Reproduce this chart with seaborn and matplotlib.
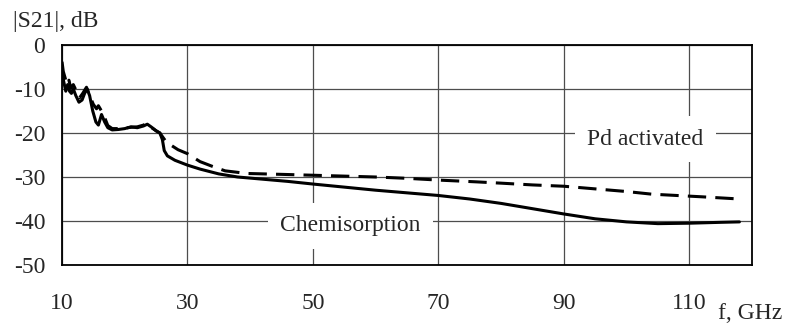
import pandas as pd
import matplotlib.pyplot as plt
import seaborn as sns

# values, f in GHz, |S21| in dB
freq_chem = [10.0, 10.3, 10.6, 10.9, 11.2, 11.5, 11.8, 12.2, 12.7, 13.2, 13.6, 14.0,
             14.4, 14.9, 15.4, 15.8, 16.3, 16.8, 17.3, 18.0, 19.0, 20.0, 21.0, 22.0,
             23.0, 23.6, 24.2, 25.0, 25.6, 26.0, 26.3, 26.8, 28.0, 30.0, 32.0, 35.0,
             38.0, 42.0, 46.0, 50.0, 55.0, 60.0, 65.0, 70.0, 75.0, 80.0, 85.0, 90.0,
             95.0, 100.0, 105.0, 110.0, 115.0, 118.0]
s21_chem = [-6.5, -8.5, -10.5, -9.0, -10.5, -11.0, -10.0, -11.5, -13.0, -12.5, -11.0, -10.0,
            -11.5, -15.0, -17.5, -18.2, -15.8, -17.5, -18.8, -19.3, -19.2, -19.0, -18.6, -18.8,
            -18.4, -18.0, -18.6, -19.5, -20.0, -21.5, -24.0, -25.2, -26.2, -27.3, -28.2, -29.3,
            -30.0, -30.5, -31.0, -31.6, -32.3, -33.0, -33.6, -34.2, -35.0, -36.0, -37.2, -38.4,
            -39.5, -40.2, -40.6, -40.5, -40.3, -40.2]

freq_pd = [10.0, 10.2, 10.5, 10.8, 11.1, 11.4, 11.8, 12.3, 12.8, 13.3, 13.9, 14.4,
           15.0, 15.5, 15.8, 16.3, 16.8, 17.3, 18.0, 19.0, 20.0, 21.0, 22.0, 23.0,
           23.5, 24.3, 25.0, 25.6, 26.1, 26.6, 27.3, 28.5, 30.0, 32.0, 34.0, 36.0,
           39.5, 45.0, 50.0, 55.0, 60.0, 65.0, 70.0, 76.0, 80.0, 85.0, 90.0, 95.0,
           100.0, 104.0, 108.0, 112.0, 118.0]
s21_pd = [-3.8, -6.0, -7.5, -9.0, -8.0, -9.8, -9.0, -10.5, -12.0, -11.0, -9.6, -11.5,
          -13.5, -14.5, -13.8, -15.0, -16.5, -18.3, -19.0, -19.0, -18.9, -18.7, -18.6, -18.2,
          -17.8, -18.8, -19.5, -20.0, -21.0, -22.0, -22.7, -23.8, -24.7, -26.5, -27.6, -28.6,
          -29.2, -29.4, -29.6, -29.8, -30.0, -30.3, -30.7, -31.1, -31.4, -31.8, -32.1, -32.7,
          -33.3, -33.9, -34.2, -34.5, -35.0]

x_ticks = [10, 30, 50, 70, 90, 110]
y_ticks = [0, -10, -20, -30, -40, -50]

df = pd.concat([
    pd.DataFrame({"f": freq_chem, "s21": s21_chem, "sample": "Chemisorption"}),
    pd.DataFrame({"f": freq_pd, "s21": s21_pd, "sample": "Pd activated"}),
])

sns.set_style("white")
plt.rcParams["font.family"] = ["Liberation Serif", "DejaVu Serif"]
FS = 17

fig, ax = plt.subplots(figsize=(7.86, 3.27), dpi=100)
fig.subplots_adjust(left=0.0789, right=0.9567, bottom=0.1896, top=0.8624)

sns.lineplot(
    data=df, x="f", y="s21", hue="sample", style="sample",
    palette={"Chemisorption": "black", "Pd activated": "black"},
    dashes={"Chemisorption": "", "Pd activated": (6, 3)},
    estimator=None, sort=False, linewidth=2.2, legend=False, ax=ax,
)
for line in ax.get_lines():
    line.set_solid_joinstyle("round")
    line.set_dash_joinstyle("round")

ax.set_xlim(10, 120)
ax.set_ylim(-50, 0)
ax.set_xticks(x_ticks)
ax.set_yticks(y_ticks)
ax.set_xticklabels([str(t) for t in x_ticks], fontsize=FS)
ax.set_yticklabels([str(t) for t in y_ticks], fontsize=FS)
ax.tick_params(axis="x", direction="out", length=6, width=1, color="black", pad=14)
ax.tick_params(axis="y", direction="out", length=5, width=1, color="black", pad=7)
ax.grid(True, color="0.3", linewidth=0.9)
ax.set_axisbelow(True)
for s in ax.spines.values():
    s.set_visible(True)
    s.set_color("black")
    s.set_linewidth(1.3)
ax.set_xlabel("")
ax.set_ylabel("")

box = dict(facecolor="white", edgecolor="none", pad=9)
ax.text(56, -41.1, "Chemisorption", fontsize=FS, ha="center", va="center", bbox=box, zorder=3)
ax.text(103, -21.4, "Pd activated", fontsize=FS, ha="center", va="center", bbox=box, zorder=3)

fig.text(0.0165, 0.965, "|S21|, dB", fontsize=FS, ha="left", va="top")
fig.text(0.9135, 0.072, "f, GHz", fontsize=FS, ha="left", va="top")

plt.savefig("out.png", dpi=100)
